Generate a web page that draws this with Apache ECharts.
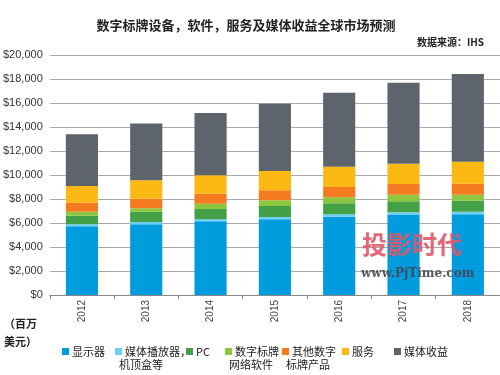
<!DOCTYPE html>
<html>
<head>
<meta charset="utf-8">
<script src="https://cdn.jsdelivr.net/npm/echarts@6/dist/echarts.min.js"></script>
<style>
html, body { margin: 0; padding: 0; background: #fff; }
#chart { width: 500px; height: 375px; }
</style>
</head>
<body>
<div id="chart"></div>
<script>
// 年份
var years = ['2012', '2013', '2014', '2015', '2016', '2017', '2018']
// 各分项 (百万美元)
var displays = [5720, 5890, 6140, 6310, 6530, 6670, 6720]
var players = [170, 190, 170, 190, 190, 220, 220]
var pcs = [720, 860, 860, 920, 920, 920, 920]
var software = [330, 280, 440, 470, 500, 550, 500]
var otherProducts = [750, 810, 830, 830, 860, 890, 920]
var services = [1400, 1530, 1530, 1610, 1690, 1690, 1830]
var media = [4300, 4740, 5200, 5610, 6170, 6750, 7310]

var seriesNames = ['显示器', '媒体播放器，机顶盒等', 'PC', '数字标牌网络软件', '其他数字标牌产品', '服务', '媒体收益']
var seriesData = [displays, players, pcs, software, otherProducts, services, media]
var colors = ['#009cde', '#6dcff6', '#43a047', '#8dc63f', '#f47b20', '#fdb913', '#5d646b']

// 图例第一行 / 第二行
var legendLine1 = ['显示器', '媒体播放器，', 'PC', '数字标牌', '其他数字', '服务', '媒体收益']
var legendLine2 = ['', '机顶盒等', '', '网络软件', '标牌产品', '', '']
var legendLeft = [57, 110, 181, 220, 277, 337, 389]

var chart = echarts.init(document.getElementById('chart'))

var series = seriesNames.map(function (name, i) {
    return {
        name: name,
        type: 'bar',
        stack: 'total',
        barWidth: '50%',
        itemStyle: { color: colors[i] },
        emphasis: { disabled: true },
        data: seriesData[i]
    }
})

var legends = seriesNames.map(function (name, i) {
    return {
        data: [name],
        left: legendLeft[i],
        top: 341,
        itemWidth: 7,
        itemHeight: 7,
        itemGap: 0,
        icon: 'rect',
        selectedMode: false,
        formatter: function () { return legendLine1[i] },
        textStyle: { fontSize: 11, color: '#222', padding: [0, 0, 0, -2], fontFamily: 'Noto Sans CJK SC' }
    }
})

var graphics = [
    { type: 'text', left: 4, top: 318, style: { text: '（百万', fill: '#222', font: 'bold 11px "Noto Sans CJK SC"' } },
    { type: 'text', left: 4, top: 336, style: { text: '美元）', fill: '#222', font: 'bold 11px "Noto Sans CJK SC"' } },
    { type: 'text', right: 16, top: 37, style: { text: '数据来源：IHS', font: 'bold 10px "Noto Sans CJK SC"', fill: '#222' } },
    // 水印
    { type: 'text', left: 362, top: 232, z: 100, style: { text: '投影时代', font: 'bold 25px "Noto Sans CJK SC"', fill: 'rgba(226,88,104,0.9)' } },
    { type: 'text', left: 361, top: 268, z: 100, style: { text: 'www.PjTime.com', font: 'bold 12px "DejaVu Serif"', fill: 'rgba(70,70,80,0.9)' } }
]
legendLine2.forEach(function (t, i) {
    if (t) {
        graphics.push({ type: 'text', left: legendLeft[i] + 9, top: 359, style: { text: t, font: '11px "Noto Sans CJK SC"', fill: '#222' } })
    }
})

chart.setOption({
    animation: false,
    title: {
        text: '数字标牌设备，软件，服务及媒体收益全球市场预测',
        left: 241,
        textAlign: 'center',
        top: 14,
        textStyle: { fontSize: 13, fontWeight: 'bold', color: '#222', fontFamily: 'Noto Sans CJK SC' }
    },
    legend: legends,
    graphic: graphics,
    grid: { left: 44, top: 55, width: 467, height: 240, containLabel: false },
    xAxis: {
        type: 'category',
        data: years,
        axisLine: { lineStyle: { color: '#888' } },
        axisTick: { show: true, lineStyle: { color: '#888' }, length: 4 },
        axisLabel: { rotate: 90, fontSize: 10, color: '#444', fontFamily: 'Liberation Sans', margin: 5 }
    },
    yAxis: {
        type: 'value',
        min: 0,
        max: 20000,
        interval: 2000,
        axisLine: { show: false },
        axisTick: { show: false },
        splitLine: { lineStyle: { color: '#a8abae', width: 1 } },
        axisLabel: {
            fontSize: 11,
            color: '#333',
            fontFamily: 'Liberation Sans',
            margin: 7,
            formatter: function (v) { return '$' + v.toLocaleString('en-US') }
        }
    },
    series: series
})
</script>
</body>
</html>
